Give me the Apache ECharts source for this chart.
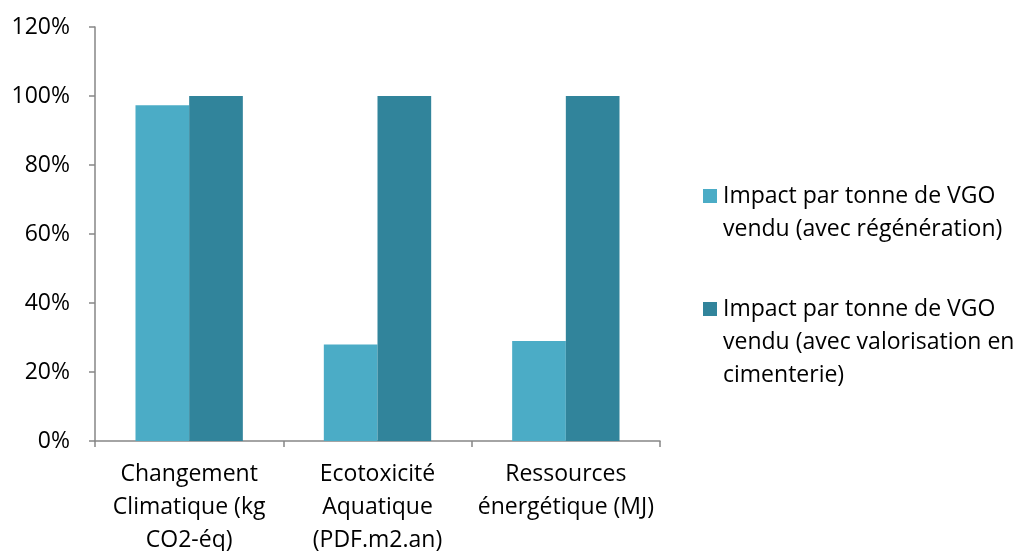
<!DOCTYPE html>
<html>
<head>
<meta charset="utf-8">
<script src="https://cdn.jsdelivr.net/npm/echarts@6/dist/echarts.min.js"></script>
<style>
  html, body { margin: 0; padding: 0; background: #ffffff; }
  #chart { width: 1021px; height: 551px; }
</style>
</head>
<body>
<div id="chart"></div>
<script>
// Impact categories along the x axis
const categories = [
  'Changement\nClimatique (kg\nCO2-éq)',
  'Ecotoxicité\nAquatique\n(PDF.m2.an)',
  'Ressources\nénergétique (MJ)'
];

// Series names (legend text, wrapped as shown)
const nameRegen = 'Impact par tonne de VGO\nvendu (avec régénération)';
const nameCiment = 'Impact par tonne de VGO\nvendu (avec valorisation en\ncimenterie)';

// Relative impact, in percent
const valuesRegen = [97.3, 28.0, 29.0];
const valuesCiment = [100, 100, 100];

// Y axis range and step, in percent
const yMin = 0;
const yMax = 120;
const yStep = 20;

const FONT = 'Open Sans';
const FONT_SIZE = 23;
const TEXT = '#000000';
const AXIS = '#868686';
const LINE_H = 33;
const ICON = 14;

// Legend marker: a square at the top of a tall, otherwise empty box, so the
// marker lines up with the first line of a wrapped legend label.
function legendItem(lines) {
  const h = ICON + (lines - 1) * LINE_H;
  return {
    height: h,
    icon: 'path://M0,0L' + ICON + ',0L' + ICON + ',' + ICON + 'L0,' + ICON + 'Z' +
          'M' + ICON + ',' + h + 'L' + ICON + ',' + h
  };
}

// One legend block per series; markerTop is where the square starts.
function makeLegend(name, lines, markerTop) {
  const it = legendItem(lines);
  const textOverhang = (LINE_H - ICON) / 2;
  return {
    orient: 'vertical',
    left: 703,
    top: markerTop - textOverhang,
    padding: 0,
    itemWidth: ICON,
    itemHeight: it.height,
    itemGap: 0,
    itemStyle: { borderWidth: 0 },
    icon: it.icon,
    data: [name],
    textStyle: { fontFamily: FONT, fontSize: FONT_SIZE, color: TEXT, lineHeight: LINE_H, padding: [0, 0, 0, 1] }
  };
}

const chart = echarts.init(document.getElementById('chart'));

chart.setOption({
  animation: false,
  textStyle: { fontFamily: FONT },
  grid: {
    left: 95, right: 361, top: 27, bottom: 110,
    containLabel: false,
    outerBoundsMode: 'none'
  },
  legend: [
    makeLegend(nameRegen, 2, 189),
    makeLegend(nameCiment, 3, 302)
  ],
  xAxis: {
    type: 'category',
    data: categories,
    axisLine: { show: true, lineStyle: { color: AXIS, width: 1.5 } },
    axisTick: { show: true, length: 6, alignWithLabel: false, lineStyle: { color: AXIS, width: 1.5 } },
    axisLabel: {
      color: TEXT, fontFamily: FONT, fontSize: FONT_SIZE, lineHeight: LINE_H,
      margin: 17, interval: 0
    },
    splitLine: { show: false }
  },
  yAxis: {
    type: 'value',
    min: yMin,
    max: yMax,
    interval: yStep,
    axisLine: { show: true, lineStyle: { color: AXIS, width: 1.5 } },
    axisTick: { show: true, length: 6, lineStyle: { color: AXIS, width: 1.5 } },
    axisLabel: {
      color: TEXT, fontFamily: FONT, fontSize: FONT_SIZE, margin: 25,
      formatter: v => v + '%'
    },
    splitLine: { show: false }
  },
  series: [
    {
      name: nameRegen,
      type: 'bar',
      data: valuesRegen,
      barGap: '0%',
      barCategoryGap: '43%',
      itemStyle: { color: '#4BACC6' }
    },
    {
      name: nameCiment,
      type: 'bar',
      data: valuesCiment,
      itemStyle: { color: '#31849B' }
    }
  ]
});
</script>
</body>
</html>
